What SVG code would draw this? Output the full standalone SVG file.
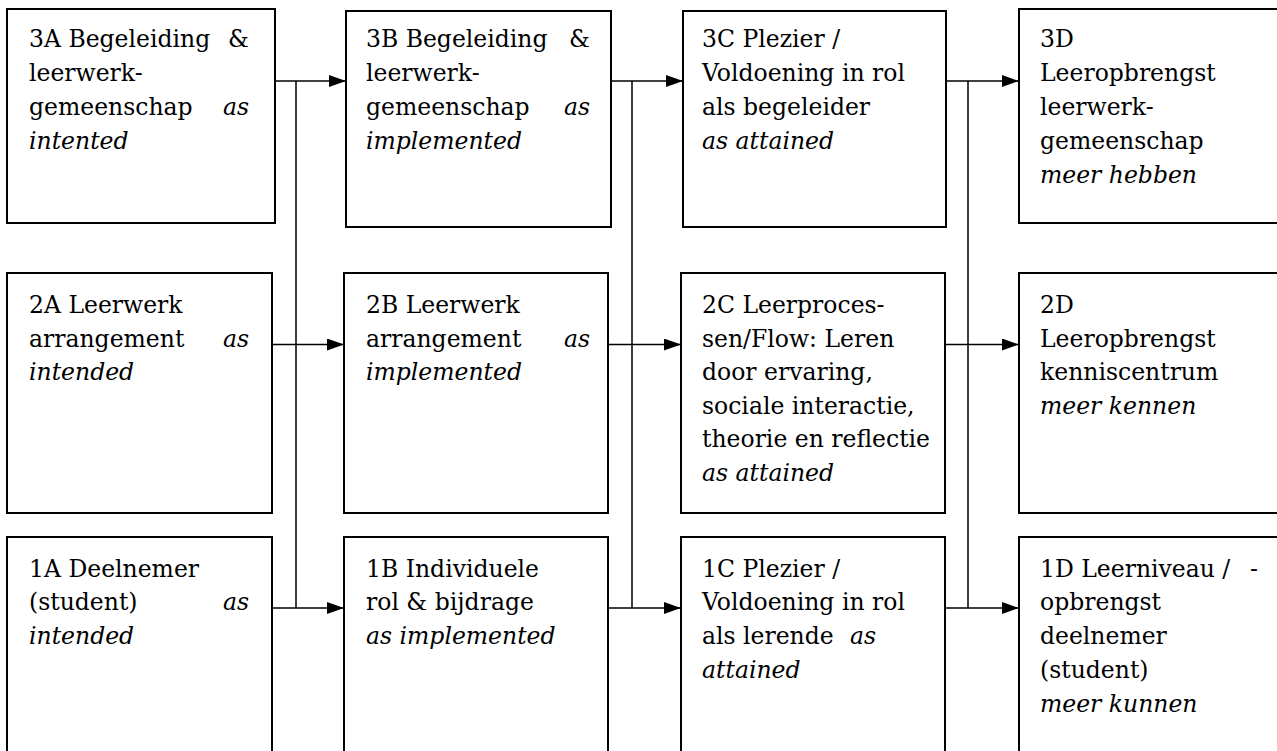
<svg xmlns="http://www.w3.org/2000/svg" width="1277" height="751" viewBox="0 0 1277 751">
<defs>
<marker id="ah" markerUnits="userSpaceOnUse" markerWidth="18" markerHeight="12" refX="17" refY="6" orient="auto">
<path d="M0,0 L17,6 L0,12 z" fill="#000"/>
</marker>
<style>
.box{fill:#fff;stroke:#000;stroke-width:2}
.t{font-family:"DejaVu Serif","Liberation Serif",serif;font-size:23.5px;fill:#000}
.i{font-style:italic}
.e{text-anchor:end}
.c{fill:none;stroke:#000;stroke-width:1.5}
.a{fill:none;stroke:#000;stroke-width:1.5;marker-end:url(#ah)}
</style>
</defs>
<rect width="1277" height="751" fill="#fff"/>
<g id="connectors">
<path class="c" d="M296,81 V608 M632,81 V608 M968,81 V608"/>
<path class="a" d="M275,81 H346"/>
<path class="a" d="M272,344.5 H344"/>
<path class="a" d="M272,608 H344"/>
<path class="a" d="M611,81 H683"/>
<path class="a" d="M608,344.5 H681"/>
<path class="a" d="M608,608 H681"/>
<path class="a" d="M946,81 H1019"/>
<path class="a" d="M945,344.5 H1019"/>
<path class="a" d="M945,608 H1019"/>
</g>
<g id="n3A">
<rect class="box" x="7" y="9" width="268" height="214"/>
<text class="t" x="29" y="47">3A Begeleiding</text><text class="t e" x="249" y="47">&amp;</text>
<text class="t" x="29" y="81">leerwerk-</text>
<text class="t" x="29" y="115">gemeenschap</text><text class="t i e" x="249" y="115">as</text>
<text class="t i" x="29" y="149">intented</text>
</g>
<g id="n3B">
<rect class="box" x="346" y="11" width="265" height="216"/>
<text class="t" x="366" y="47">3B Begeleiding</text><text class="t e" x="590" y="47">&amp;</text>
<text class="t" x="366" y="81">leerwerk-</text>
<text class="t" x="366" y="115">gemeenschap</text><text class="t i e" x="590" y="115">as</text>
<text class="t i" x="366" y="149">implemented</text>
</g>
<g id="n3C">
<rect class="box" x="683" y="11" width="263" height="216"/>
<text class="t" x="702" y="47">3C Plezier /</text>
<text class="t" x="702" y="81">Voldoening in rol</text>
<text class="t" x="702" y="115">als begeleider</text>
<text class="t i" x="702" y="149">as attained</text>
</g>
<g id="n3D">
<rect class="box" x="1019" y="9" width="270" height="214"/>
<text class="t" x="1040" y="47">3D</text>
<text class="t" x="1040" y="81">Leeropbrengst</text>
<text class="t" x="1040" y="115">leerwerk-</text>
<text class="t" x="1040" y="149">gemeenschap</text>
<text class="t i" x="1040" y="183">meer hebben</text>
</g>
<g id="n2A">
<rect class="box" x="7" y="273" width="265" height="240"/>
<text class="t" x="29" y="313">2A Leerwerk</text>
<text class="t" x="29" y="347">arrangement</text><text class="t i e" x="249" y="347">as</text>
<text class="t i" x="29" y="380">intended</text>
</g>
<g id="n2B">
<rect class="box" x="344" y="273" width="264" height="240"/>
<text class="t" x="366" y="313">2B Leerwerk</text>
<text class="t" x="366" y="347">arrangement</text><text class="t i e" x="590" y="347">as</text>
<text class="t i" x="366" y="380">implemented</text>
</g>
<g id="n2C">
<rect class="box" x="681" y="273" width="264" height="240"/>
<text class="t" x="702" y="313">2C Leerproces-</text>
<text class="t" x="702" y="346.5">sen/Flow: Leren</text>
<text class="t" x="702" y="380">door ervaring,</text>
<text class="t" x="702" y="413.5">sociale interactie,</text>
<text class="t" x="702" y="447">theorie en reflectie</text>
<text class="t i" x="702" y="480.5">as attained</text>
</g>
<g id="n2D">
<rect class="box" x="1019" y="273" width="270" height="240"/>
<text class="t" x="1040" y="313">2D</text>
<text class="t" x="1040" y="346.5">Leeropbrengst</text>
<text class="t" x="1040" y="380">kenniscentrum</text>
<text class="t i" x="1040" y="413.5">meer kennen</text>
</g>
<g id="n1A">
<rect class="box" x="7" y="537" width="265" height="240"/>
<text class="t" x="29" y="577">1A Deelnemer</text>
<text class="t" x="29" y="610">(student)</text><text class="t i e" x="249" y="610">as</text>
<text class="t i" x="29" y="644">intended</text>
</g>
<g id="n1B">
<rect class="box" x="344" y="537" width="264" height="240"/>
<text class="t" x="366" y="577">1B Individuele</text>
<text class="t" x="366" y="610">rol &amp; bijdrage</text>
<text class="t i" x="366" y="644">as implemented</text>
</g>
<g id="n1C">
<rect class="box" x="681" y="537" width="264" height="240"/>
<text class="t" x="702" y="577">1C Plezier /</text>
<text class="t" x="702" y="610">Voldoening in rol</text>
<text class="t" x="702" y="644">als lerende</text><text class="t i" x="850" y="644">as</text>
<text class="t i" x="702" y="678">attained</text>
</g>
<g id="n1D">
<rect class="box" x="1019" y="537" width="270" height="240"/>
<text class="t" x="1040" y="577">1D Leerniveau /</text><text class="t e" x="1258" y="577">-</text>
<text class="t" x="1040" y="610">opbrengst</text>
<text class="t" x="1040" y="644">deelnemer</text>
<text class="t" x="1040" y="678">(student)</text>
<text class="t i" x="1040" y="712">meer kunnen</text>
</g>
</svg>
